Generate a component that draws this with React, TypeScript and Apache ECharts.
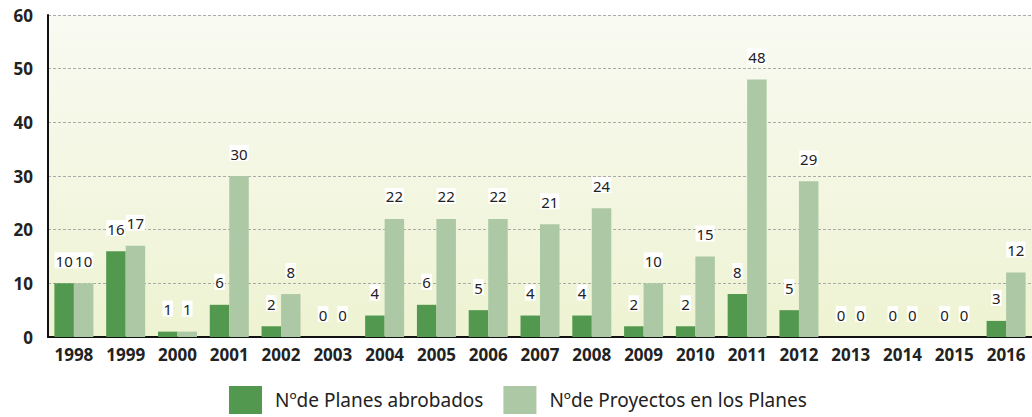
import React, { useEffect, useRef } from "react";
import * as echarts from "echarts";

const years = ["1998","1999","2000","2001","2002","2003","2004","2005","2006","2007","2008","2009","2010","2011","2012","2013","2014","2015","2016"];
const planes = [10,16,1,6,2,0,4,6,5,4,4,2,2,8,5,0,0,0,3];
const proyectos = [10,17,1,30,8,0,22,22,22,21,24,10,15,48,29,0,0,0,12];
const yTicks = { min: 0, max: 60, interval: 10 };
const seriesNames = ["Nºde Planes abrobados", "Nºde Proyectos en los Planes"];
const colors = ["#52984f", "#adc8a4"];

const FONT = "'Noto Sans', sans-serif";

export default function App() {
  const ref = useRef<HTMLDivElement>(null);
  useEffect(() => {
    if (!ref.current) return;
    const chart = echarts.init(ref.current, null, { renderer: "svg" });
    const label = {
      show: true,
      position: "top",
      distance: 15,
      color: "#222",
      fontFamily: FONT,
      fontSize: 15,
      lineHeight: 15,
      backgroundColor: "#ffffff",
      padding: [1, 1, 0, 1],
    };
    chart.setOption({
      animation: false,
      color: colors,
      grid: {
        left: 48,
        top: 15,
        width: 994,
        height: 322,
        show: true,
        borderWidth: 0,
        backgroundColor: new echarts.graphic.LinearGradient(0, 0, 0, 1, [
          { offset: 0, color: "#f9faf2" },
          { offset: 1, color: "#eef3d2" },
        ]),
      },
      legend: {
        left: 229,
        top: 386,
        padding: 0,
        itemWidth: 33,
        itemHeight: 28,
        itemGap: 20,
        icon: "rect",
        textStyle: { fontFamily: FONT, fontSize: 19, lineHeight: 22, color: "#222", padding: [0, 0, 0, 8] },
        data: seriesNames,
      },
      xAxis: {
        type: "category",
        data: years,
        axisLine: { lineStyle: { color: "#111", width: 2 } },
        axisTick: { show: false },
        axisLabel: { fontFamily: FONT, fontWeight: "bold", fontSize: 17, color: "#222", margin: 9 },
      },
      yAxis: {
        type: "value",
        min: yTicks.min,
        max: yTicks.max,
        interval: yTicks.interval,
        axisLine: { show: true, lineStyle: { color: "#111", width: 2 } },
        axisTick: { show: false },
        axisLabel: { fontFamily: FONT, fontWeight: "bold", fontSize: 17, color: "#222", margin: 15 },
        splitLine: { lineStyle: { color: "#aaa", type: [3, 2], width: 1 } },
      },
      series: [
        { name: seriesNames[0], type: "bar", data: planes, barWidth: 19.5, barGap: "0%", label },
        { name: seriesNames[1], type: "bar", data: proyectos, barWidth: 19.5, barGap: "0%", label },
      ],
    });
    return () => chart.dispose();
  }, []);
  return (
    <div
      ref={ref}
      style={{ position: "absolute", left: 0, top: 0, width: 1032, height: 417 }}
    />
  );
}
